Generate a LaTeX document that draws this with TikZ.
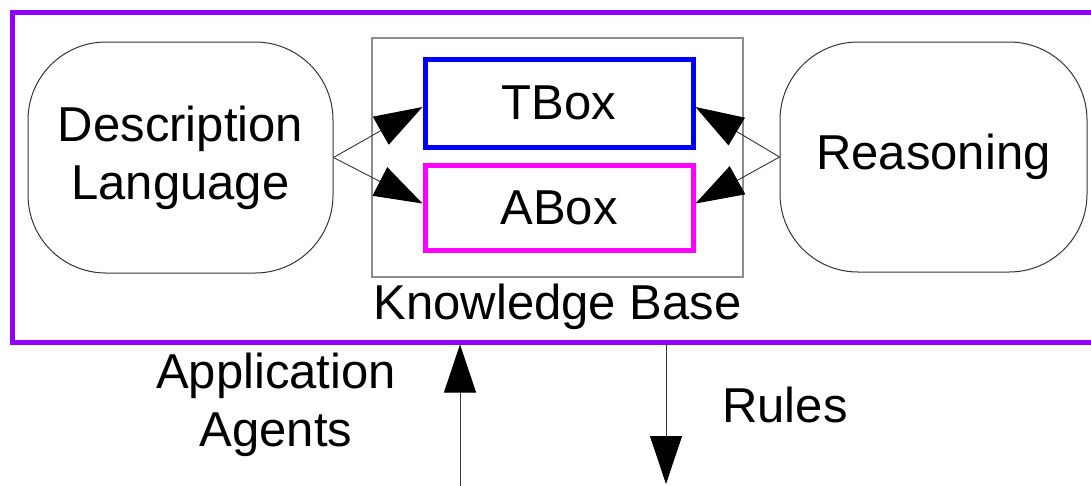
\documentclass[tikz,border=0pt]{standalone}
\usepackage{fontspec}
\setmainfont{Liberation Sans}
\usetikzlibrary{arrows.meta,positioning}
\definecolor{framepurple}{RGB}{145,0,255}
\definecolor{kbgray}{RGB}{140,140,140}
\definecolor{aboxpink}{RGB}{255,0,255}
\definecolor{tboxblue}{RGB}{0,0,255}
\tikzset{
  bigfont/.style={font=\fontsize{49}{58}\selectfont},
  blob/.style={draw=black!80,line width=1pt,rounded corners=78pt,align=center,bigfont},
  boxpart/.style={draw,line width=5pt,minimum width=268pt,bigfont},
  link/.style={draw=black!80,line width=0.9pt,-{Triangle[length=48pt,width=32pt,color=black]}}
}
\begin{document}
\begin{tikzpicture}[x=1pt,y=-1pt]
  \useasboundingbox (0,0) rectangle (1091,485);
  % outer frame
  \node[draw=framepurple,line width=5pt,minimum width=1088pt,minimum height=330pt] (frame) at (556,177) {};
  % knowledge base
  \node[draw=kbgray,line width=1.2pt,minimum width=371pt,minimum height=239pt] (kb) at (557.5,157.5) {};
  \node[bigfont,below=3pt of kb] (kblabel) {Knowledge Base};
  \node[boxpart,draw=tboxblue,minimum height=88pt] (tbox) at (559,103) {TBox};
  \node[boxpart,draw=aboxpink,minimum height=85pt] (abox) at (559,207.5) {ABox};
  % left and right parts
  \node[blob,minimum width=305pt,minimum height=231pt] (desc) at (180.5,157.5) {Description\\Language};
  \node[blob,minimum width=307pt,minimum height=230pt] (reason) at (933.5,157) {Reasoning};
  \draw[link] (desc.east) -- ([yshift=-4pt]tbox.west);
  \draw[link] (desc.east) -- ([yshift=4pt]abox.west);
  \draw[link] (reason.west) -- ([yshift=-4pt]tbox.east);
  \draw[link] (reason.west) -- ([yshift=4pt]abox.east);
  % outside
  \coordinate (agentsrc) at (460,488);
  \coordinate (rulesdst) at (666,484);
  \draw[link] (agentsrc) -- (agentsrc |- frame.south);
  \draw[link] (rulesdst |- frame.south) -- (rulesdst);
  \node[bigfont,align=center] (agents) at (276,405) {Application\\Agents};
  \node[bigfont] (rules) at (785,405) {Rules};
\end{tikzpicture}
\end{document}
